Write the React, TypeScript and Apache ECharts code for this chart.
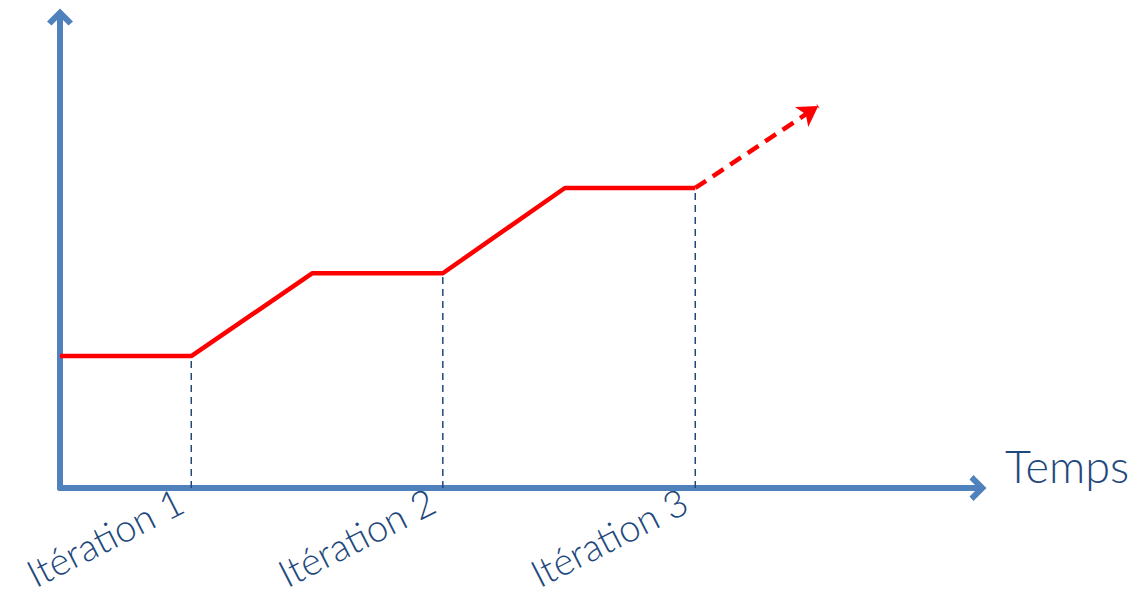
import React, { useEffect, useRef } from "react";
import * as echarts from "echarts";

// Progress curve (x: time 0..100, y: value 0..100)
const stepX = [0, 14.3, 27.5, 41.7, 55.0, 69.2];
const stepY = [28.0, 28.0, 45.6, 45.6, 63.7, 63.7];
const trendEnd = [82.6, 81.1];
// Iteration boundaries
const iterX = [14.3, 41.7, 69.2];
const iterY = [28.0, 45.6, 63.7];
const iterLabels = ["Itération 1", "Itération 2", "Itération 3"];
const xName = "Temps";

const AXIS = "#4F81BD";
const TEXT = "#1F497D";
const RED = "#FF0000";
const FONT = "Lato";
const chevron = "path://M13,0 L26,13 L21.5,17 L13,8.5 L4.5,17 L0,13 Z";

export default function App() {
  const ref = useRef<HTMLDivElement>(null);
  useEffect(() => {
    const chart = echarts.init(ref.current!, undefined, { renderer: "svg" });
    const dashedVerticals = iterX.map((x, i) => ({
      type: "line",
      data: [
        [x, 0],
        [x, iterY[i]],
      ],
      symbol: "none",
      silent: true,
      lineStyle: { color: TEXT, width: 1.5, type: [7, 5] },
      z: 1,
    }));
    chart.setOption({
      animation: false,
      grid: {
        left: 60,
        right: 159,
        top: 17,
        bottom: 115,
        containLabel: false,
        outerBoundsMode: "none",
      },
      xAxis: {
        type: "value",
        min: 0,
        max: 100,
        name: xName,
        nameLocation: "end",
        nameGap: 27,
        nameTextStyle: {
          color: TEXT,
          fontFamily: FONT,
          fontWeight: 300,
          fontSize: 45,
          align: "left",
          verticalAlign: "bottom",
          padding: [0, 0, 0, 0],
        },
        axisLine: {
          show: true,
          symbol: ["none", chevron],
          symbolSize: [26, 20],
          lineStyle: { color: AXIS, width: 6 },
        },
        axisTick: { show: false },
        splitLine: { show: false },
        axisLabel: {
          show: true,
          customValues: iterX,
          rotate: 27,
          margin: 5,
          color: TEXT,
          fontFamily: FONT,
          fontWeight: 300,
          fontSize: 38,
          lineHeight: 30,
          padding: [0, 12, 0, 0],
          formatter: (v: number) => {
            const i = iterX.findIndex((x) => Math.abs(x - v) < 1e-6);
            return i >= 0 ? iterLabels[i] : "";
          },
        },
      },
      yAxis: {
        type: "value",
        min: 0,
        max: 100,
        axisLine: {
          show: true,
          symbol: ["none", chevron],
          symbolSize: [26, 20],
          lineStyle: { color: AXIS, width: 6 },
        },
        axisTick: { show: false },
        axisLabel: { show: false },
        splitLine: { show: false },
      },
      series: [
        ...dashedVerticals,
        {
          type: "line",
          data: stepX.map((x, i) => [x, stepY[i]]),
          symbol: "none",
          lineStyle: { color: RED, width: 4.5 },
          z: 3,
          markLine: {
            silent: true,
            symbol: ["none", "arrow"],
            symbolSize: [18, 20],
            label: { show: false },
            lineStyle: { color: RED, width: 4.5, type: [13, 8] },
            data: [
              [
                { coord: [stepX[stepX.length - 1], stepY[stepY.length - 1]] },
                { coord: trendEnd },
              ],
            ],
          },
        },
      ],
    });
    return () => chart.dispose();
  }, []);
  return (
    <div
      ref={ref}
      style={{ position: "absolute", left: 0, top: 0, width: 1137, height: 603 }}
    />
  );
}
